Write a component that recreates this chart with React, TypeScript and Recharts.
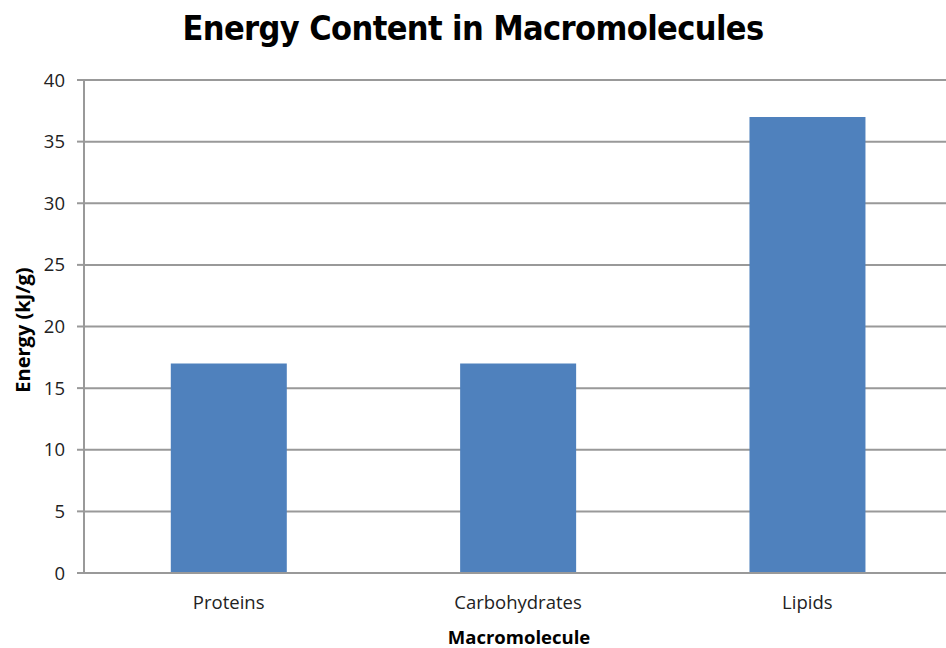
import React from 'react';
import { BarChart, Bar, XAxis, YAxis, CartesianGrid } from 'recharts';

const categories = ['Proteins', 'Carbohydrates', 'Lipids'];
const energyValues = [17, 17, 37];
const yTicks = [0, 5, 10, 15, 20, 25, 30, 35, 40];

const data = categories.map((name, i) => ({ name, energy: energyValues[i] }));

const FONT = '"Open Sans", "Liberation Sans", sans-serif';
const TITLE_FONT = '"Liberation Sans Narrow", "DejaVu Sans Condensed", "Open Sans", sans-serif';

const YLabel = () => (
  <text
    x={22}
    y={330}
    transform="rotate(-90 22 330)"
    textAnchor="middle"
    dominantBaseline="central"
    fill="#000"
    fontSize={20}
    fontWeight="bold"
    fontFamily={FONT}
  >
    Energy (kJ/g)
  </text>
);

const XLabel = () => (
  <text
    x={519}
    y={636}
    textAnchor="middle"
    dominantBaseline="central"
    fill="#000"
    fontSize={18.5}
    fontWeight="bold"
    fontFamily={FONT}
  >
    Macromolecule
  </text>
);

export default function App() {
  return (
    <div style={{ position: 'absolute', left: 0, top: 0, width: 946, height: 648, overflow: 'hidden', background: '#fff' }}>
      <div
        style={{
          position: 'absolute',
          left: 0,
          top: 7,
          width: 946,
          textAlign: 'center',
          fontFamily: TITLE_FONT,
          fontWeight: 'bold',
          fontSize: 34,
          letterSpacing: -0.6,
          color: '#000',
          lineHeight: '42px',
        }}
      >
        Energy Content in Macromolecules
      </div>
      <BarChart
        width={960}
        height={648}
        data={data}
        margin={{ top: 80, right: 8, bottom: 0, left: 0 }}
        barCategoryGap="30%"
      >
        <CartesianGrid vertical={false} stroke="#999" strokeWidth={2} />
        <XAxis
          dataKey="name"
          height={75}
          axisLine={{ stroke: '#999', strokeWidth: 2 }}
          tickLine={false}
          tickSize={0}
          tickMargin={23}
          tick={{ fill: '#222', fontSize: 18.5, fontFamily: FONT }}
          label={<XLabel />}
        />
        <YAxis
          domain={[0, 40]}
          ticks={yTicks}
          width={84}
          axisLine={{ stroke: '#999', strokeWidth: 2 }}
          tickLine={{ stroke: '#999', strokeWidth: 2 }}
          tickSize={7}
          tickMargin={12}
          tick={{ fill: '#222', fontSize: 18.5, fontFamily: FONT }}
          label={<YLabel />}
        />
        <Bar dataKey="energy" fill="#4F81BD" isAnimationActive={false} />
      </BarChart>
    </div>
  );
}
